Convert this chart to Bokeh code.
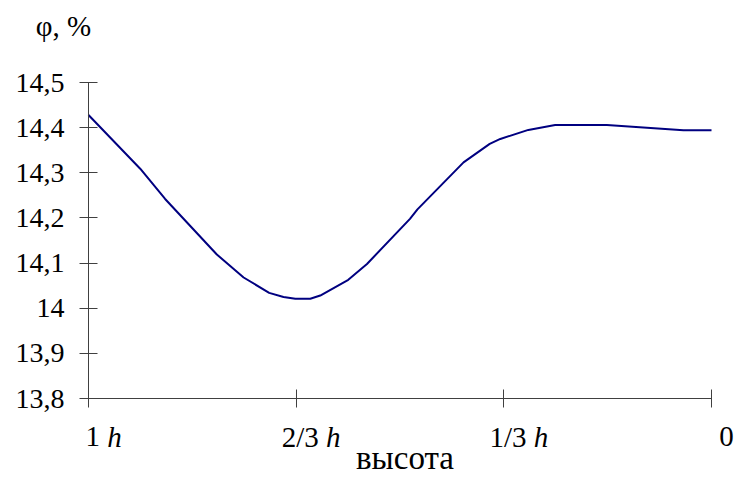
from bokeh.plotting import figure
from bokeh.models import Range1d, FixedTicker, ColumnDataSource
from bokeh.core.properties import value
from bokeh.embed import file_html
from bokeh.resources import INLINE

# Relative height (1 = top of the layer, 0 = bottom) and moisture content, %
height_frac = [1.000, 0.917, 0.877, 0.794, 0.751, 0.710, 0.687, 0.668, 0.644,
               0.628, 0.583, 0.553, 0.484, 0.472, 0.398, 0.356, 0.339, 0.294,
               0.251, 0.168, 0.045, 0.000]
phi_pct = [14.428, 14.309, 14.242, 14.119, 14.068, 14.034, 14.025, 14.021, 14.021,
           14.028, 14.063, 14.098, 14.198, 14.219, 14.323, 14.364, 14.375, 14.395,
           14.406, 14.406, 14.394, 14.394]

x_ticks = [1.0, 2 / 3, 1 / 3, 0.0]
x_tick_nums = ["1", "2/3", "1/3", "0"]
x_tick_units = ["h", "h", "h", ""]

y_ticks = [13.8, 13.9, 14.0, 14.1, 14.2, 14.3, 14.4, 14.5]
y_tick_labels = ["13,8", "13,9", "14", "14,1", "14,2", "14,3", "14,4", "14,5"]

x_title = "высота"
y_title = "φ, %"

X_LO, X_HI = 0.0, 1.0
Y_LO, Y_HI = 13.8, 14.5

FONT = "Liberation Serif"
Y_FS = 28
X_FS = 29
TITLE_FS = 33
LINE_COLOR = "#000080"
AXIS_COLOR = "#404040"

# canvas and the pixel box of the data area inside it
W, H = 738, 479
BOX_L, BOX_R, BOX_T, BOX_B = 88, 711, 82, 398

# widen the ranges so the whole canvas is the frame and the data box sits inside it
x_per_px = (X_HI - X_LO) / (BOX_R - BOX_L)
y_per_px = (Y_HI - Y_LO) / (BOX_B - BOX_T)
x_range = Range1d(X_HI + BOX_L * x_per_px, X_LO - (W - BOX_R) * x_per_px)
y_range = Range1d(Y_LO - (H - BOX_B) * y_per_px, Y_HI + BOX_T * y_per_px)

# advance widths (em) of the serif face, for placing split labels
ADV = {" ": 0.25, "/": 0.278, ",": 0.25, "h": 0.5}


def text_width(s, size):
    return sum(ADV.get(c, 0.5) for c in s) * size


p = figure(width=W, height=H, output_backend="svg", toolbar_location=None,
           x_range=x_range, y_range=y_range,
           min_border_left=0, min_border_right=0,
           min_border_top=0, min_border_bottom=0)
p.outline_line_color = None
p.grid.grid_line_color = None

p.line(height_frac, phi_pct, line_color=LINE_COLOR, line_width=2)

# y axis pinned to the left edge of the data box
p.yaxis.fixed_location = X_HI
p.yaxis.bounds = (Y_LO, Y_HI)
p.yaxis.ticker = FixedTicker(ticks=y_ticks)
p.yaxis.major_label_overrides = dict(zip(y_ticks, y_tick_labels))
p.yaxis.major_label_text_font = FONT
p.yaxis.major_label_text_font_size = f"{Y_FS}px"
p.yaxis.major_label_text_color = "black"
p.yaxis.major_label_standoff = 15
p.yaxis.axis_line_color = AXIS_COLOR
p.yaxis.major_tick_line_color = AXIS_COLOR
p.yaxis.major_tick_in = 9
p.yaxis.major_tick_out = 9
p.yaxis.minor_tick_line_color = None

# x axis pinned to the bottom of the data box; its labels are drawn as text below
p.xaxis.fixed_location = Y_LO
p.xaxis.bounds = (X_LO, X_HI)
p.xaxis.ticker = FixedTicker(ticks=x_ticks)
p.xaxis.major_label_text_color = None
p.xaxis.axis_line_color = AXIS_COLOR
p.xaxis.major_tick_line_color = AXIS_COLOR
p.xaxis.major_tick_in = 9
p.xaxis.major_tick_out = 9
p.xaxis.minor_tick_line_color = None

LABEL_SHIFT = 15     # tick labels sit a little right of their ticks
TICK_BASELINE = 38   # px below the x axis
TITLE_BASELINE = 59

num_x, num_off, unit_x, unit_txt, unit_off = [], [], [], [], []
for xt, num, unit in zip(x_ticks, x_tick_nums, x_tick_units):
    w_num = text_width(num, X_FS)
    w_sp = text_width(" ", X_FS) if unit else 0
    w_unit = text_width(unit, X_FS)
    left = LABEL_SHIFT - (w_num + w_sp + w_unit) / 2
    num_x.append(xt)
    num_off.append(left)
    if unit:
        unit_x.append(xt)
        unit_txt.append(unit)
        unit_off.append(left + w_num + w_sp)

num_src = ColumnDataSource(dict(x=num_x, y=[Y_LO] * len(num_x), text=x_tick_nums, xo=num_off))
unit_src = ColumnDataSource(dict(x=unit_x, y=[Y_LO] * len(unit_x), text=unit_txt, xo=unit_off))

p.text(x="x", y="y", text="text", x_offset="xo", y_offset=TICK_BASELINE, source=num_src,
       text_align="left", text_baseline="alphabetic",
       text_font=value(FONT), text_font_size=f"{X_FS}px", text_color="black")
p.text(x="x", y="y", text="text", x_offset="xo", y_offset=TICK_BASELINE, source=unit_src,
       text_align="left", text_baseline="alphabetic",
       text_font=value(FONT), text_font_style="italic",
       text_font_size=f"{X_FS}px", text_color="black")

# axis names
p.text(x=[(X_LO + X_HI) / 2], y=[Y_LO], text=[x_title], x_offset=5, y_offset=TITLE_BASELINE,
       text_align="center", text_baseline="alphabetic",
       text_font=value(FONT), text_font_size=f"{TITLE_FS}px", text_color="black")
p.text(x=[X_HI], y=[Y_HI], text=[y_title], x_offset=-25, y_offset=-57,
       text_align="center", text_baseline="alphabetic",
       text_font=value(FONT), text_font_size=f"{X_FS}px", text_color="black")

open("out.html", "w").write(file_html(p, INLINE))
